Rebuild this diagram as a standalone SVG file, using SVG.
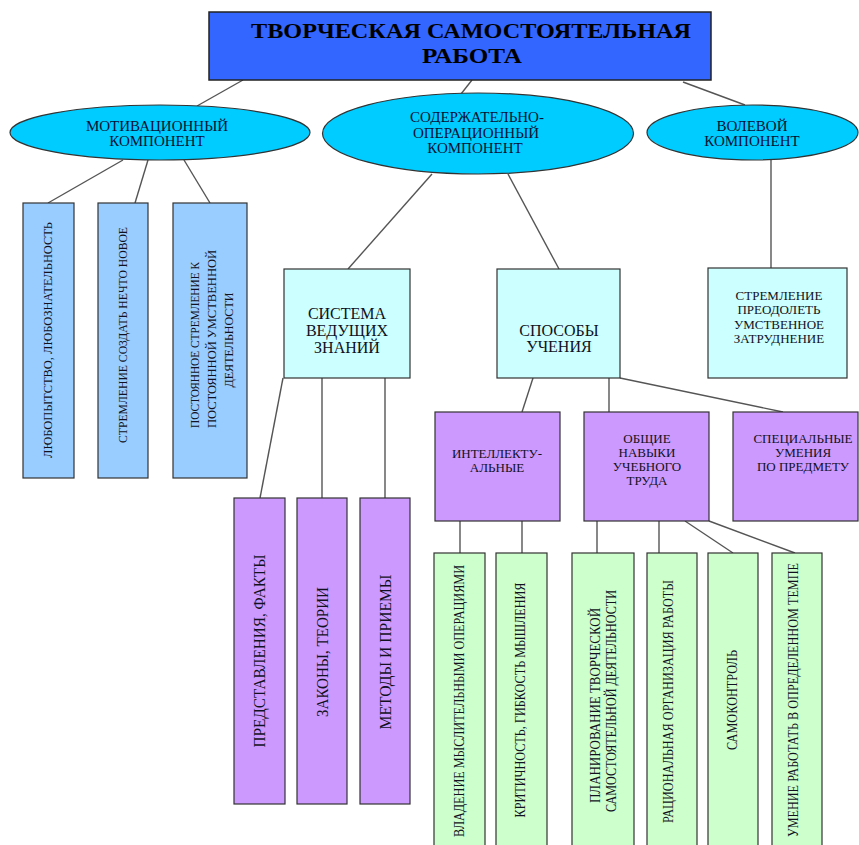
<svg xmlns="http://www.w3.org/2000/svg" width="859" height="845" viewBox="0 0 859 845">
<style>
text{font-family:"Liberation Serif","DejaVu Serif",serif;fill:#111122;text-anchor:middle}
.t{font-weight:bold;font-size:21px;fill:#000}
.e{font-size:15px;fill:#001133}
.b16{font-size:16px}
.b13{font-size:13px}
.r13{font-size:13px}
.r17{font-size:17px}
.r14{font-size:14px}
.box{stroke:#333;stroke-width:1.2}
.blue{fill:#99CCFF}
.cyan{fill:#CCFFFF}
.violet{fill:#CC99FF}
.green{fill:#CCFFCC}
.ell{fill:#00CCFF;stroke:#333;stroke-width:1.2}
#connectors line{stroke:#555;stroke-width:1.4}
</style>
<rect width="859" height="845" fill="#fff"/>
<g id="connectors">
<line x1="243" y1="80" x2="197" y2="106"/>
<line x1="472" y1="80" x2="461" y2="94"/>
<line x1="683" y1="82" x2="745" y2="105"/>
<line x1="123" y1="160" x2="48" y2="203"/>
<line x1="148" y1="160" x2="135" y2="203"/>
<line x1="184" y1="160" x2="210" y2="203"/>
<line x1="432" y1="174" x2="348" y2="269"/>
<line x1="508" y1="174" x2="559" y2="269"/>
<line x1="771" y1="160" x2="771" y2="269"/>
<line x1="283" y1="378" x2="260" y2="498"/>
<line x1="322" y1="378" x2="322" y2="498"/>
<line x1="385" y1="378" x2="385" y2="498"/>
<line x1="533" y1="378" x2="522" y2="412"/>
<line x1="609" y1="378" x2="609" y2="412"/>
<line x1="620" y1="378" x2="783" y2="412"/>
<line x1="460" y1="521" x2="460" y2="553"/>
<line x1="522" y1="521" x2="522" y2="553"/>
<line x1="597" y1="521" x2="597" y2="553"/>
<line x1="659" y1="521" x2="659" y2="553"/>
<line x1="685" y1="521" x2="733" y2="553"/>
<line x1="709" y1="521" x2="795" y2="553"/>
</g>
<g id="title">
<rect x="209" y="12" width="502" height="68" fill="#3366FF" stroke="#222" stroke-width="1.5"/>
<text class="t" x="471" y="38" textLength="440" lengthAdjust="spacingAndGlyphs">ТВОРЧЕСКАЯ САМОСТОЯТЕЛЬНАЯ</text>
<text class="t" x="472" y="63" textLength="100" lengthAdjust="spacingAndGlyphs">РАБОТА</text>
</g>
<g id="motiv">
<ellipse class="ell" cx="160" cy="132.5" rx="150" ry="27.5"/>
<text class="e" x="157" y="131">МОТИВАЦИОННЫЙ</text>
<text class="e" x="157" y="146">КОМПОНЕНТ</text>
</g>
<g id="content">
<ellipse class="ell" cx="478" cy="133.5" rx="155.5" ry="40.5"/>
<text class="e" x="477" y="122">СОДЕРЖАТЕЛЬНО-</text>
<text class="e" x="476" y="137.5">ОПЕРАЦИОННЫЙ</text>
<text class="e" x="475" y="153">КОМПОНЕНТ</text>
</g>
<g id="volev">
<ellipse class="ell" cx="752.5" cy="132.5" rx="105.5" ry="27.5"/>
<text class="e" x="752" y="131">ВОЛЕВОЙ</text>
<text class="e" x="752" y="146">КОМПОНЕНТ</text>
</g>
<g id="m1">
<rect class="box blue" x="23" y="203" width="51" height="275"/>
<text class="r13" transform="translate(47,340) rotate(-90)" dy="4.5" textLength="236" lengthAdjust="spacingAndGlyphs">ЛЮБОПЫТСТВО,  ЛЮБОЗНАТЕЛЬНОСТЬ</text>
</g>
<g id="m2">
<rect class="box blue" x="98" y="203" width="50" height="275"/>
<text class="r13" transform="translate(122,335) rotate(-90)" dy="4.5" textLength="216" lengthAdjust="spacingAndGlyphs">СТРЕМЛЕНИЕ СОЗДАТЬ НЕЧТО НОВОЕ</text>
</g>
<g id="m3">
<rect class="box blue" x="173" y="203" width="74" height="275"/>
<text class="r13" transform="translate(194,345) rotate(-90)" dy="4.5" textLength="166" lengthAdjust="spacingAndGlyphs">ПОСТОЯННОЕ СТРЕМЛЕНИЕ К</text>
<text class="r13" transform="translate(211,339) rotate(-90)" dy="4.5" textLength="178" lengthAdjust="spacingAndGlyphs">ПОСТОЯННОЙ УМСТВЕННОЙ</text>
<text class="r13" transform="translate(228,340) rotate(-90)" dy="4.5" textLength="95" lengthAdjust="spacingAndGlyphs">ДЕЯТЕЛЬНОСТИ</text>
</g>
<g id="sys">
<rect class="box cyan" x="284" y="269" width="126" height="109"/>
<text class="b16" x="347" y="319">СИСТЕМА</text>
<text class="b16" x="347" y="336">ВЕДУЩИХ</text>
<text class="b16" x="347" y="353">ЗНАНИЙ</text>
</g>
<g id="sposob">
<rect class="box cyan" x="497" y="269" width="123" height="109"/>
<text class="b16" x="559" y="336">СПОСОБЫ</text>
<text class="b16" x="559" y="352">УЧЕНИЯ</text>
</g>
<g id="strem">
<rect class="box cyan" x="708" y="268" width="139" height="110"/>
<text class="b13" x="779" y="299.5">СТРЕМЛЕНИЕ</text>
<text class="b13" x="779" y="314">ПРЕОДОЛЕТЬ</text>
<text class="b13" x="779" y="328.5">УМСТВЕННОЕ</text>
<text class="b13" x="779" y="343">ЗАТРУДНЕНИЕ</text>
</g>
<g id="p1">
<rect class="box violet" x="234" y="498" width="51" height="306"/>
<text class="r17" transform="translate(259,651) rotate(-90)" dy="6" textLength="193" lengthAdjust="spacingAndGlyphs">ПРЕДСТАВЛЕНИЯ, ФАКТЫ</text>
</g>
<g id="p2">
<rect class="box violet" x="297" y="498" width="50" height="306"/>
<text class="r17" transform="translate(322,652) rotate(-90)" dy="6" textLength="130" lengthAdjust="spacingAndGlyphs">ЗАКОНЫ, ТЕОРИИ</text>
</g>
<g id="p3">
<rect class="box violet" x="360" y="498" width="50" height="306"/>
<text class="r17" transform="translate(385,652) rotate(-90)" dy="6" textLength="155" lengthAdjust="spacingAndGlyphs">МЕТОДЫ  И ПРИЕМЫ</text>
</g>
<g id="intel">
<rect class="box violet" x="435" y="412" width="125" height="109"/>
<text class="b13" x="497" y="457.5">ИНТЕЛЛЕКТУ-</text>
<text class="b13" x="497" y="471.5">АЛЬНЫЕ</text>
</g>
<g id="obsch">
<rect class="box violet" x="584" y="412" width="125" height="109"/>
<text class="b13" x="647" y="442.5">ОБЩИЕ</text>
<text class="b13" x="647" y="456.5">НАВЫКИ</text>
<text class="b13" x="647" y="471">УЧЕБНОГО</text>
<text class="b13" x="647" y="484.5">ТРУДА</text>
</g>
<g id="spec">
<rect class="box violet" x="733" y="412" width="125" height="109"/>
<text class="b13" x="803" y="442.5">СПЕЦИАЛЬНЫЕ</text>
<text class="b13" x="803" y="456.5">УМЕНИЯ</text>
<text class="b13" x="803" y="471">ПО ПРЕДМЕТУ</text>
</g>
<g id="g1">
<rect class="box green" x="434" y="553" width="51" height="300"/>
<text class="r14" transform="translate(459,701) rotate(-90)" dy="5" textLength="272" lengthAdjust="spacingAndGlyphs">ВЛАДЕНИЕ МЫСЛИТЕЛЬНЫМИ ОПЕРАЦИЯМИ</text>
</g>
<g id="g2">
<rect class="box green" x="496" y="553" width="51" height="300"/>
<text class="r14" transform="translate(520,700) rotate(-90)" dy="5" textLength="235" lengthAdjust="spacingAndGlyphs">КРИТИЧНОСТЬ, ГИБКОСТЬ МЫШЛЕНИЯ</text>
</g>
<g id="g3">
<rect class="box green" x="572" y="553" width="62" height="300"/>
<text class="r14" transform="translate(595,705.5) rotate(-90)" dy="5" textLength="195" lengthAdjust="spacingAndGlyphs">ПЛАНИРОВАНИЕ ТВОРЧЕСКОЙ</text>
<text class="r14" transform="translate(611,701) rotate(-90)" dy="5" textLength="222" lengthAdjust="spacingAndGlyphs">САМОСТОЯТЕЛЬНОЙ ДЕЯТЕЛЬНОСТИ</text>
</g>
<g id="g4">
<rect class="box green" x="647" y="553" width="50" height="300"/>
<text class="r14" transform="translate(668,701.5) rotate(-90)" dy="5" textLength="243" lengthAdjust="spacingAndGlyphs">РАЦИОНАЛЬНАЯ ОРГАНИЗАЦИЯ РАБОТЫ</text>
</g>
<g id="g5">
<rect class="box green" x="708" y="553" width="50" height="300"/>
<text class="r14" transform="translate(732,700) rotate(-90)" dy="5" textLength="100" lengthAdjust="spacingAndGlyphs">САМОКОНТРОЛЬ</text>
</g>
<g id="g6">
<rect class="box green" x="772" y="553" width="50" height="300"/>
<text class="r14" transform="translate(793,700) rotate(-90)" dy="5" textLength="274" lengthAdjust="spacingAndGlyphs">УМЕНИЕ РАБОТАТЬ В ОПРЕДЕЛЕННОМ ТЕМПЕ</text>
</g>
</svg>
